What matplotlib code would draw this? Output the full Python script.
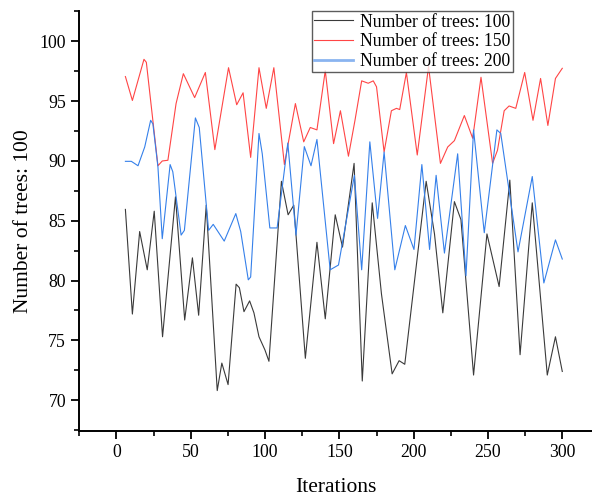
import matplotlib
matplotlib.use("Agg")
import matplotlib.pyplot as plt
from matplotlib.ticker import MultipleLocator

plt.rcParams['font.family'] = ['Liberation Serif', 'DejaVu Serif']

# Series: iteration positions and values (at extrema)
x_100 = [6.0, 10.7, 15.6, 20.7, 25.4, 31.0, 39.7, 45.9, 51.1, 55.3, 60.4, 67.8, 70.9, 75.1,
         80.5, 82.7, 85.8, 89.6, 92.5, 95.9, 99.9, 102.6, 111.0, 115.5, 119.3, 127.1, 134.9,
         140.5, 147.2, 152.1, 159.9, 165.4, 172.1, 178.3, 185.5, 190.2, 194.0, 208.4, 214.0,
         219.6, 227.4, 231.8, 240.3, 249.3, 257.5, 264.7, 271.6, 279.8, 289.9, 295.4, 300.0]
y_100 = [85.95, 77.2, 84.1, 80.9, 85.8, 75.3, 87.0, 76.7, 81.9, 77.1, 86.3, 70.8, 73.1, 71.3,
         79.7, 79.4, 77.4, 78.3, 77.3, 75.3, 74.2, 73.25, 88.3, 85.5, 86.3, 73.5, 83.2,
         76.8, 85.5, 82.8, 89.8, 71.6, 86.5, 78.9, 72.2, 73.3, 73.0, 88.3, 83.9,
         77.3, 86.6, 85.1, 72.1, 83.9, 79.5, 88.4, 73.8, 86.5, 72.1, 75.3, 72.4]

x_150 = [6.0, 10.7, 18.5, 20.1, 27.9, 30.8, 34.6, 40.1, 45.0, 52.6, 59.8, 66.2, 75.4, 80.9,
         85.2, 90.3, 95.9, 100.8, 105.9, 113.0, 120.4, 126.0, 130.4, 134.9, 140.5, 146.1,
         150.7, 156.1, 160.5, 165.0, 169.4, 172.8, 175.0, 180.1, 185.0, 188.4, 190.6, 195.1,
         202.4, 210.0, 218.0, 222.9, 227.4, 234.1, 239.7, 245.3, 253.1, 256.4, 260.9, 264.2,
         268.7, 274.7, 280.3, 285.4, 290.3, 295.4, 300.0]
y_150 = [97.06, 95.06, 98.5, 98.25, 89.6, 90.0, 90.06, 94.8, 97.3, 95.3, 97.4, 90.95, 97.8, 94.7,
         95.7, 90.3, 97.8, 94.4, 97.8, 89.7, 94.8, 91.6, 92.8, 92.6, 97.56, 91.45,
         94.2, 90.4, 93.4, 96.7, 96.5, 96.7, 96.2, 90.75, 94.2, 94.4, 94.3, 97.4,
         90.5, 97.9, 89.8, 91.17, 91.7, 93.8, 91.9, 97.0, 89.8, 90.9, 94.2, 94.6,
         94.4, 97.4, 93.4, 96.9, 92.97, 96.9, 97.75]

x_200 = [6.0, 10.0, 14.5, 19.0, 23.0, 24.5, 27.9, 30.8, 36.1, 37.9, 43.5, 45.7, 53.1, 55.7,
         62.0, 65.1, 72.5, 80.3, 83.6, 88.7, 90.3, 95.9, 98.1, 103.2, 108.1, 115.3, 120.8,
         126.4, 130.9, 134.9, 143.8, 149.4, 160.1, 165.0, 170.5, 175.7, 180.1, 187.3, 194.4,
         200.2, 205.5, 210.7, 215.1, 220.7, 229.6, 235.2, 240.3, 247.5, 256.0, 258.6, 270.2,
         279.8, 287.6, 295.4, 300.0]
y_200 = [89.97, 89.97, 89.6, 91.17, 93.4, 93.1, 89.5, 83.5, 89.7, 89.1, 83.8, 84.2, 93.6, 92.8,
         84.2, 84.7, 83.3, 85.6, 84.1, 80.06, 80.3, 92.3, 90.6, 84.4, 84.4, 91.5, 83.8,
         91.2, 89.6, 91.8, 80.9, 81.3, 88.8, 80.9, 91.6, 85.2, 90.75, 80.9, 84.6,
         82.6, 89.7, 82.6, 88.8, 82.3, 90.6, 80.4, 92.6, 84.0, 92.6, 92.3, 82.4,
         88.7, 79.8, 83.4, 81.8]

labels = ["Number of trees: 100", "Number of trees: 150", "Number of trees: 200"]
colors = ["#3a3a3a", "#ff4545", "#3580ea"]

fig = plt.figure(figsize=(5.92, 4.95), dpi=100)
ax = fig.add_axes([0.134, 0.13, 0.866, 0.848])

ax.plot(x_100, y_100, color=colors[0], lw=0.8, label=labels[0])
ax.plot(x_150, y_150, color=colors[1], lw=0.8, label=labels[1])
ax.plot(x_200, y_200, color=colors[2], lw=0.8, label=labels[2])

ax.set_xlim(-25, 320)
ax.set_ylim(67.45, 102.55)
ax.xaxis.set_major_locator(MultipleLocator(50))
ax.xaxis.set_minor_locator(MultipleLocator(25))
ax.yaxis.set_major_locator(MultipleLocator(5))
ax.yaxis.set_minor_locator(MultipleLocator(2.5))

for s in ['top', 'right']:
    ax.spines[s].set_visible(False)
for s in ['left', 'bottom']:
    ax.spines[s].set_linewidth(1.4)
ax.tick_params(which='major', direction='out', length=6, width=1.3, labelsize=12.8, colors='black')
ax.tick_params(which='minor', direction='out', length=3.5, width=1.2)

ax.set_xlabel("Iterations", fontsize=15.5, labelpad=12)
ax.set_ylabel("Number of trees: 100", fontsize=15.5, labelpad=5)

leg = ax.legend(loc='upper right', bbox_to_anchor=(0.846, 1.0), borderaxespad=0,
                fontsize=12.7, frameon=True, fancybox=False, labelspacing=0.15,
                handlelength=2.2, handletextpad=0.4, borderpad=0.15)
leg.get_frame().set_edgecolor('#333333')
leg.get_frame().set_linewidth(1.0)
leg.legend_handles[2].set_linewidth(2.0)
leg.legend_handles[2].set_color('#8ab4f0')

fig.savefig("out.png", dpi=100)
